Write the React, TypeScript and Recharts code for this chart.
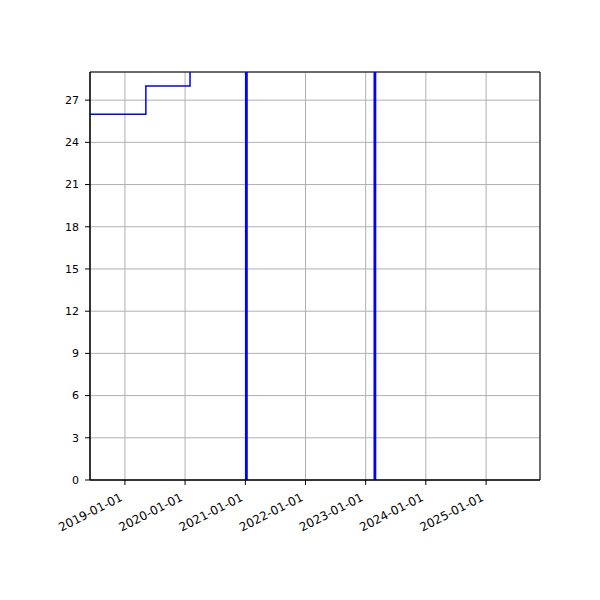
import React from "react";
import {
  LineChart,
  Line,
  XAxis,
  YAxis,
  CartesianGrid,
  ReferenceArea,
} from "recharts";

// step series: date where the level starts, and the level
const stepDates = [
  "2018-06-03",
  "2019-05-08",
  "2020-01-31",
  "2021-01-03",
  "2021-01-11",
  "2023-02-22",
  "2023-03-02",
  "2025-11-24",
];
const stepValues = [26, 28, 31, 0, 31, 0, 31, 31];

const xTickDates = [
  "2019-01-01",
  "2020-01-01",
  "2021-01-01",
  "2022-01-01",
  "2023-01-01",
  "2024-01-01",
  "2025-01-01",
];
const yTicks = [0, 3, 6, 9, 12, 15, 18, 21, 24, 27];
const xRange = ["2018-06-03", "2025-11-24"];
const yRange = [0, 29];

const toTime = (d: string) => new Date(d + "T00:00:00Z").getTime();

const fmtDate = (t: number) => new Date(t).toISOString().slice(0, 10);

const data = stepDates.map((d, i) => ({ t: toTime(d), value: stepValues[i] }));
const xTicks = xTickDates.map(toTime);
const xDomain = xRange.map(toTime);

const FONT = "DejaVu Sans";

const DateTick = ({ x, y, payload }: any) => (
  <g transform={`translate(${x - 1.5}, ${y + 12})`}>
    <text
      x={0}
      y={0}
      transform="rotate(-27)"
      textAnchor="end"
      fontSize={12}
      fontFamily={FONT}
      fill="#000"
    >
      {fmtDate(payload.value)}
    </text>
  </g>
);

const App: React.FC = () => {
  return (
    <div style={{ position: "absolute", left: 0, top: 0, background: "#fff" }}>
      <LineChart
        width={600}
        height={600}
        data={data}
        margin={{ top: 72, right: 60, bottom: 0, left: 0 }}
      >
        <CartesianGrid stroke="#b0b0b0" strokeWidth={1} />
        <XAxis
          dataKey="t"
          type="number"
          domain={xDomain}
          ticks={xTicks}
          interval={0}
          allowDataOverflow
          height={120}
          tickSize={5}
          tickMargin={3}
          tick={<DateTick />}
          tickLine={{ stroke: "#000" }}
          axisLine={{ stroke: "#000" }}
        />
        <YAxis
          type="number"
          domain={yRange}
          ticks={yTicks}
          interval={0}
          allowDataOverflow
          width={90}
          tickSize={5}
          tickMargin={6}
          tick={{ fontSize: 11, fontFamily: FONT, fill: "#000" }}
          tickLine={{ stroke: "#000" }}
          axisLine={{ stroke: "#000" }}
        />
        <Line
          type="stepAfter"
          dataKey="value"
          stroke="#0000ff"
          strokeWidth={1.5}
          dot={false}
          isAnimationActive={false}
        />
        <ReferenceArea
          x1={xDomain[0]}
          x2={xDomain[1]}
          y1={yRange[0]}
          y2={yRange[1]}
          fill="none"
          stroke="#000"
          strokeWidth={1}
        />
      </LineChart>
    </div>
  );
};

export default App;
